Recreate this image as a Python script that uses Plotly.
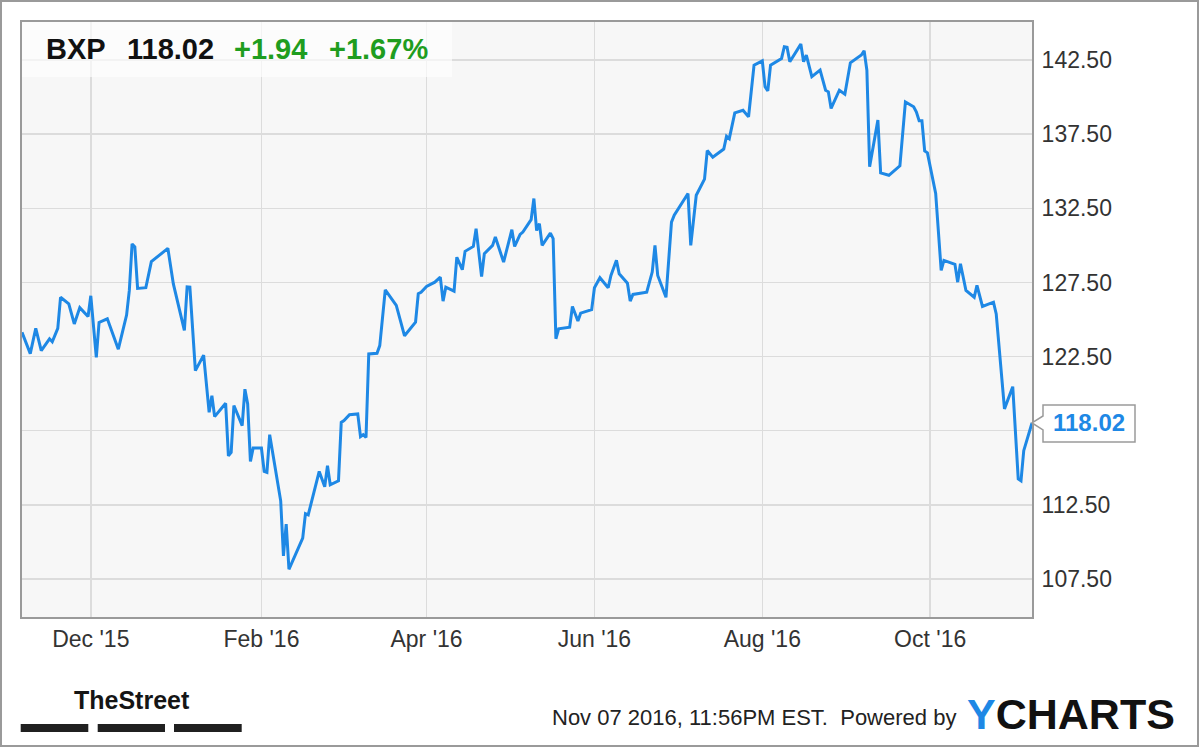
import plotly.graph_objects as go

# ---------------- data ----------------
dates = [
    "2015-11-06", "2015-11-09", "2015-11-11", "2015-11-13", "2015-11-16", "2015-11-17", "2015-11-19",
    "2015-11-20", "2015-11-23", "2015-11-25", "2015-11-27", "2015-11-30", "2015-12-01", "2015-12-03",
    "2015-12-04", "2015-12-07", "2015-12-11", "2015-12-14", "2015-12-15", "2015-12-16", "2015-12-17",
    "2015-12-18", "2015-12-21", "2015-12-23", "2015-12-29", "2015-12-31", "2016-01-04", "2016-01-05",
    "2016-01-06", "2016-01-08", "2016-01-11", "2016-01-13", "2016-01-14", "2016-01-15", "2016-01-19",
    "2016-01-20", "2016-01-21", "2016-01-22", "2016-01-25", "2016-01-26", "2016-01-27", "2016-01-28",
    "2016-01-29", "2016-02-01", "2016-02-02", "2016-02-03", "2016-02-04", "2016-02-08", "2016-02-09",
    "2016-02-10", "2016-02-11", "2016-02-16", "2016-02-17", "2016-02-18", "2016-02-22", "2016-02-24",
    "2016-02-25", "2016-02-26", "2016-02-29", "2016-03-01", "2016-03-02", "2016-03-04", "2016-03-07",
    "2016-03-08", "2016-03-09", "2016-03-10", "2016-03-11", "2016-03-14", "2016-03-15", "2016-03-17",
    "2016-03-21", "2016-03-24", "2016-03-28", "2016-03-29", "2016-03-30", "2016-04-01", "2016-04-04",
    "2016-04-06", "2016-04-07", "2016-04-08", "2016-04-11", "2016-04-12", "2016-04-14", "2016-04-15",
    "2016-04-18", "2016-04-19", "2016-04-21", "2016-04-22", "2016-04-25", "2016-04-26", "2016-04-29",
    "2016-05-02", "2016-05-03", "2016-05-05", "2016-05-06", "2016-05-09", "2016-05-10", "2016-05-11",
    "2016-05-12", "2016-05-13", "2016-05-16", "2016-05-17", "2016-05-18", "2016-05-19", "2016-05-23",
    "2016-05-24", "2016-05-26", "2016-05-27", "2016-05-31", "2016-06-01", "2016-06-03", "2016-06-06",
    "2016-06-07", "2016-06-09", "2016-06-10", "2016-06-13", "2016-06-14", "2016-06-15", "2016-06-20",
    "2016-06-22", "2016-06-23", "2016-06-24", "2016-06-27", "2016-06-29", "2016-06-30", "2016-07-05",
    "2016-07-06", "2016-07-08", "2016-07-11", "2016-07-12", "2016-07-14", "2016-07-18", "2016-07-19",
    "2016-07-20", "2016-07-22", "2016-07-25", "2016-07-27", "2016-07-29", "2016-08-01", "2016-08-02",
    "2016-08-03", "2016-08-04", "2016-08-08", "2016-08-09", "2016-08-10", "2016-08-11", "2016-08-15",
    "2016-08-16", "2016-08-17", "2016-08-19", "2016-08-22", "2016-08-24", "2016-08-25", "2016-08-26",
    "2016-08-29", "2016-08-31", "2016-09-02", "2016-09-06", "2016-09-07", "2016-09-08", "2016-09-09",
    "2016-09-12", "2016-09-13", "2016-09-16", "2016-09-20", "2016-09-22", "2016-09-25", "2016-09-26",
    "2016-09-27", "2016-09-28", "2016-09-29", "2016-09-30", "2016-10-03", "2016-10-05", "2016-10-06",
    "2016-10-10", "2016-10-11", "2016-10-12", "2016-10-14", "2016-10-17", "2016-10-18", "2016-10-20",
    "2016-10-24", "2016-10-25", "2016-10-28", "2016-10-31", "2016-11-02", "2016-11-03", "2016-11-04",
    "2016-11-07",
]
prices = [
    124.14, 122.70, 124.40, 122.90, 123.70, 123.50, 124.40,
    126.50, 126.06, 124.70, 125.80, 125.20, 126.60, 122.45,
    124.80, 125.05, 123.00, 125.30, 126.96, 130.10, 129.90,
    127.10, 127.15, 128.90, 129.80, 127.40, 124.26, 127.20,
    127.18, 121.55, 122.60, 118.74, 119.86, 118.45, 119.35,
    115.80, 116.03, 119.20, 117.84, 120.30, 119.30, 115.43,
    116.33, 116.33, 114.75, 114.68, 117.23, 112.77, 109.05,
    111.20, 108.15, 110.25, 111.90, 111.82, 114.75, 113.72,
    115.14, 113.85, 114.12, 118.06, 118.18, 118.58, 118.63,
    117.10, 117.23, 117.05, 122.68, 122.72, 123.24, 127.00,
    125.95, 123.90, 124.82, 126.74, 126.84, 127.23, 127.52,
    127.86, 126.24, 127.18, 126.91, 129.20, 128.36, 129.60,
    129.93, 131.13, 127.90, 129.44, 130.00, 130.56, 128.87,
    131.06, 129.93, 130.74, 130.90, 131.74, 133.16, 131.00,
    131.47, 130.00, 130.83, 130.45, 123.70, 124.37, 124.48,
    125.88, 124.90, 125.43, 125.66, 127.14, 127.82, 127.14,
    127.97, 128.99, 128.09, 127.45, 126.24, 126.69, 126.84,
    128.20, 130.00, 127.97, 126.50, 131.57, 132.03, 133.50,
    130.00, 133.38, 134.47, 136.40, 135.95, 136.50, 137.36,
    137.20, 138.94, 139.12, 138.67, 142.16, 142.45, 140.70,
    140.43, 142.16, 142.61, 143.40, 143.36, 142.39, 143.58,
    142.39, 142.84, 141.38, 141.82, 140.47, 140.36, 139.24,
    140.47, 140.20, 142.32, 142.84, 143.13, 141.82, 135.30,
    138.45, 134.89, 134.73, 135.37, 139.68, 139.35, 139.00,
    138.40, 138.40, 136.37, 136.24, 133.50, 128.31, 128.99,
    128.72, 127.52, 128.76, 126.96, 126.50, 127.30, 125.88,
    126.17, 125.38, 118.97, 120.47, 114.24, 114.12, 116.15,
    118.02,
]

ticker = "BXP"
change = "+1.94"
change_pct = "+1.67%"

x_tick_dates = ["2015-12-01", "2016-02-01", "2016-04-01", "2016-06-01", "2016-08-01", "2016-10-01"]
x_tick_labels = ["Dec '15", "Feb '16", "Apr '16", "Jun '16", "Aug '16", "Oct '16"]
y_tick_values = [107.5, 112.5, 117.5, 122.5, 127.5, 132.5, 137.5, 142.5]
# 117.50 is hidden behind the last-value callout in the reference
y_tick_labels = ["107.50", "112.50", "", "122.50", "127.50", "132.50", "137.50", "142.50"]

footer_text = "Nov 07 2016, 11:56PM EST.&nbsp; Powered by"

# ---------------- layout constants ----------------
W, H = 1200, 747
L, R, T, B = 22, 1032, 22, 617          # plot area in pixels
YMIN, YMAX = 104.93, 145.07
XMIN, XMAX = "2015-11-06", "2016-11-07"

BLUE = "#1e88e5"
GREEN = "#1f9d1f"
FONT = "Arial, Liberation Sans, sans-serif"


def px(x):
    return (x - L) / (R - L)


def py(y):
    return (B - y) / (B - T)


fig = go.Figure()
fig.add_trace(go.Scatter(
    x=dates, y=prices, mode="lines",
    line=dict(color=BLUE, width=3),
    hoverinfo="skip", showlegend=False,
))

shapes = []
annotations = []

# header box
shapes.append(dict(type="rect", xref="paper", yref="paper", layer="above",
                   x0=px(22), x1=px(452), y0=py(77), y1=py(22),
                   fillcolor="rgba(255,255,255,0.65)", line=dict(width=0)))

hdr_y = py(49)
for txt, xpix, col in [(ticker, 44, "#111111"), (f"{prices[-1]:.2f}", 125, "#111111"),
                       (change, 232, GREEN), (change_pct, 327, GREEN)]:
    annotations.append(dict(text=f"<b>{txt}</b>", xref="paper", yref="paper",
                            x=px(xpix), y=hdr_y, xanchor="left", yanchor="middle",
                            showarrow=False, font=dict(family=FONT, size=29, color=col)))

# last-value callout, tied to the last price
last_y = (prices[-1] - YMIN) / (YMAX - YMIN)
ph = 1.0 / (B - T)                      # one pixel in paper-y units
pw = 1.0 / (R - L)                      # one pixel in paper-x units
tipx = 1.0
bx0 = 1.0 + 11 * pw
bx1 = 1.0 + 103 * pw
path = (f"M {tipx},{last_y} L {bx0},{last_y + 7*ph} L {bx0},{last_y + 18*ph} "
        f"L {bx1},{last_y + 18*ph} L {bx1},{last_y - 19*ph} L {bx0},{last_y - 19*ph} "
        f"L {bx0},{last_y - 7*ph} Z")
shapes.append(dict(type="path", xref="paper", yref="paper", path=path, layer="above",
                   fillcolor="white", line=dict(color="#9a9a9a", width=1.5)))
annotations.append(dict(text=f"<b>{prices[-1]:.2f}</b>", xref="paper", yref="paper",
                        x=(bx0 + bx1) / 2, y=last_y, xanchor="center", yanchor="middle",
                        showarrow=False, font=dict(family=FONT, size=24, color=BLUE)))

# TheStreet logo
annotations.append(dict(text="<b>TheStreet</b>", xref="paper", yref="paper",
                        x=px(131.5), y=py(700), xanchor="center", yanchor="middle",
                        showarrow=False,
                        font=dict(family=FONT, size=25, color="#151515")))
for a, b in [(20.7, 88.3), (97.7, 165.0), (174.0, 241.7)]:
    shapes.append(dict(type="rect", xref="paper", yref="paper",
                       x0=px(a), x1=px(b), y0=py(732), y1=py(724),
                       fillcolor="#202020", line=dict(width=0)))

# footer
annotations.append(dict(text=footer_text, xref="paper", yref="paper",
                        x=px(550), y=py(717), xanchor="left", yanchor="middle",
                        showarrow=False, font=dict(family=FONT, size=22, color="#222222")))
annotations.append(dict(text=f"<b><span style='color:{BLUE}'>Y</span>CHARTS</b>",
                        xref="paper", yref="paper",
                        x=px(965), y=py(714), xanchor="left", yanchor="middle",
                        showarrow=False, font=dict(family=FONT, size=43, color="#111111")))

# outer frame
shapes.append(dict(type="rect", xref="paper", yref="paper", layer="above",
                   x0=px(1), x1=px(1198), y0=py(746), y1=py(1),
                   fillcolor="rgba(0,0,0,0)", line=dict(color="#9a9a9a", width=2)))

fig.update_layout(
    width=W, height=H,
    margin=dict(l=L, r=W - R, t=T, b=H - B, pad=0),
    paper_bgcolor="white", plot_bgcolor="#f7f7f7",
    showlegend=False,
    shapes=shapes, annotations=annotations,
    font=dict(family=FONT),
    xaxis=dict(
        type="date", range=[XMIN, XMAX],
        tickmode="array", tickvals=x_tick_dates, ticktext=x_tick_labels,
        showgrid=True, gridcolor="#dcdcdc", gridwidth=1.5,
        showline=True, linecolor="#9a9a9a", linewidth=2, mirror=True,
        ticks="", ticklabelstandoff=0, zeroline=False,
        tickfont=dict(family=FONT, size=23, color="#333333"),
    ),
    yaxis=dict(
        range=[YMIN, YMAX], side="right",
        tickmode="array", tickvals=y_tick_values, ticktext=y_tick_labels,
        showgrid=True, gridcolor="#dcdcdc", gridwidth=1.5,
        showline=True, linecolor="#9a9a9a", linewidth=2, mirror=True,
        ticks="", ticklabelstandoff=3, zeroline=False,
        tickfont=dict(family=FONT, size=23, color="#333333"),
    ),
)

fig.write_html(
    "out.html",
    config={"displayModeBar": False, "staticPlot": True},
    post_script="document.body.style.margin='0';document.body.style.overflow='hidden';",
)
